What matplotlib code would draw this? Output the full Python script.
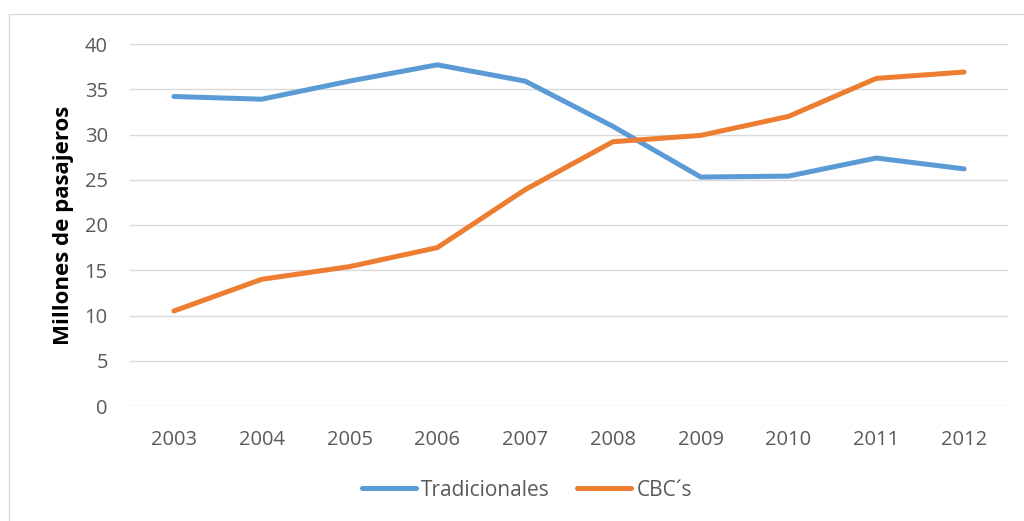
import matplotlib
matplotlib.use("Agg")
import matplotlib.pyplot as plt
from matplotlib.patches import Rectangle

years = ["2003", "2004", "2005", "2006", "2007", "2008", "2009", "2010", "2011", "2012"]
tradicionales = [34.2, 33.9, 35.9, 37.7, 35.9, 30.9, 25.3, 25.4, 27.4, 26.2]
cbcs = [10.5, 14.0, 15.4, 17.5, 23.9, 29.2, 29.9, 32.0, 36.2, 36.9]

plt.rcParams['font.family'] = ['Open Sans', 'DejaVu Sans']

fig = plt.figure(figsize=(10.24, 5.21), dpi=100)
ax = fig.add_axes([130/1024, 1-406/521, 878/1024, 362/521])

# chart border
fig.patches.append(Rectangle((9/1024, -0.05), 1.2, (521-14)/521 + 0.05,
                             transform=fig.transFigure, fill=False,
                             edgecolor='#D9D9D9', linewidth=1))

x = range(len(years))
ax.plot(x, tradicionales, color='#5B9BD5', linewidth=3.6, solid_capstyle='round',
        solid_joinstyle='round', label='Tradicionales')
ax.plot(x, cbcs, color='#ED7D31', linewidth=3.6, solid_capstyle='round',
        solid_joinstyle='round', label='CBC´s')

ax.set_xlim(-0.5, 9.5)
ax.set_ylim(0, 40)
ax.set_yticks(range(0, 41, 5))
ax.set_xticks(list(x))
ax.set_xticklabels(years)
ax.grid(axis='y', color='#D9D9D9', linewidth=1)
ax.set_axisbelow(True)
for s in ax.spines.values():
    s.set_visible(False)
ax.tick_params(length=0, labelsize=14.5, labelcolor='#595959')
ax.tick_params(axis='y', pad=16)
ax.tick_params(axis='x', pad=17)

ax.set_ylabel('Millones de pasajeros', fontsize=16, fontweight='bold', color='black', labelpad=8)

fig.legend(loc='center', bbox_to_anchor=(527/1024, 1-490/521), ncol=2, frameon=False,
           fontsize=15, labelcolor='#595959', handlelength=2.6, columnspacing=1.3,
           handletextpad=0.25)

fig.savefig('out.png', dpi=100)
